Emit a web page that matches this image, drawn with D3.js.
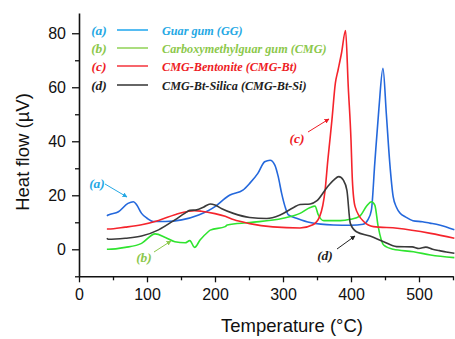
<!DOCTYPE html>
<html>
<head>
<meta charset="utf-8">
<script src="https://cdn.jsdelivr.net/npm/d3@7"></script>
<style>
  body { margin: 0; background: #fff; }
  svg { display: block; font-family: Arial, "Liberation Sans", sans-serif; }
  .legend text, .note { font-family: "Liberation Serif", "Times New Roman", serif; font-weight: bold; font-style: italic; }
</style>
</head>
<body>
<div id="chart"></div>
<script>
var svgWidth = 455;
var svgHeight = 339;

// DSC traces, temperature (°C) and heat flow (µV)
var ggT  = [41, 43, 58, 72, 80, 85, 92, 100, 109, 127, 151, 176, 200, 215, 222, 241, 251, 263, 273, 281, 288, 293, 298, 303, 308, 320, 340, 374, 400, 418, 425, 430, 435, 441, 447, 452, 457, 462, 467, 472, 480, 491, 505, 516, 530, 552];
var ggV  = [12.4, 12.7, 13.9, 17.0, 17.6, 16.4, 13.3, 11.5, 10.3, 10.3, 10.9, 12.7, 15.8, 18.9, 20.1, 21.9, 24.4, 28.1, 32.4, 33.0, 31.2, 26.9, 20.7, 15.8, 12.7, 11.5, 9.9, 9.0, 8.9, 9.3, 11.0, 14.5, 32, 52, 67, 50, 32, 19.5, 15.5, 13.4, 12.0, 10.6, 10.2, 9.7, 9.0, 7.2];

var cmgT = [41, 43, 68, 92, 112, 127, 141, 156, 163, 170, 178, 190, 193, 215, 218, 251, 300, 325, 340, 347, 352, 360, 384, 399, 413, 423, 430, 435, 440, 448, 462, 492, 517, 552];
var cmgV = [0, 0, 0.7, 2.2, 5.7, 4.4, 2.8, 2.4, 3.2, 0.7, 3.4, 6.5, 7.1, 8.4, 9.0, 9.9, 11.5, 13.3, 15.5, 16.0, 12.7, 10.6, 10.6, 11.1, 12.3, 16.0, 17.6, 16.4, 8.4, 1.6, 0, -0.9, -2.1, -3.1];

var btT  = [41, 43, 68, 92, 117, 141, 161, 170, 180, 200, 215, 227, 251, 285, 325, 344, 354, 362, 366, 369, 372, 377, 381, 386, 392, 396, 400, 402, 406, 419, 433, 468, 517, 552];
var btV  = [7.5, 7.5, 8.2, 9.1, 10.7, 12.8, 14.1, 14.3, 14.1, 13.2, 12.2, 11.0, 9.5, 8.3, 7.9, 9.1, 12.2, 22.1, 33.2, 40.5, 48, 61.5, 66.4, 72.6, 81, 60, 40.5, 25.7, 15.8, 10.2, 8.4, 7.8, 5.9, 4.1];

var siT  = [41, 43, 68, 92, 117, 141, 156, 163, 173, 183, 193, 200, 210, 227, 251, 276, 295, 315, 325, 340, 350, 365, 375, 382, 389, 394, 399, 408, 428, 448, 467, 490, 500, 510, 520, 530, 540, 552];
var siV  = [4.1, 3.7, 4.1, 4.9, 7.2, 10.9, 13.4, 14.4, 14.6, 15.6, 16.8, 16.4, 15.0, 13.3, 11.8, 11.4, 12.6, 15.4, 16.6, 16.8, 18.0, 23.0, 25.7, 26.9, 25.5, 21.8, 9.6, 6.5, 4.9, 2.8, 1.0, 0.9, 0.3, 0.8, 0.0, -0.5, -1.0, -1.5];

var seriesNames = ["Guar gum (GG)", "Carboxymethylguar gum (CMG)", "CMG-Bentonite (CMG-Bt)", "CMG-Bt-Silica (CMG-Bt-Si)"];
var seriesTags = ["(a)", "(b)", "(c)", "(d)"];
var xTicks = [0, 100, 200, 300, 400, 500];
var yTicks = [0, 20, 40, 60, 80];

var lineColors = ["#2468dc", "#2fe42f", "#f5242c", "#3a3a3a"];
var legendLineColors = ["#1ea6ee", "#8fd255", "#f5333b", "#333333"];
var textColors = ["#25a8e4", "#8cc84b", "#ee1c25", "#222222"];

var svg = d3.select("#chart")
  .append("svg")
  .attr("width", svgWidth)
  .attr("height", svgHeight);

var x = d3.scaleLinear().domain([0, 550]).range([79, 453]);
var y = d3.scaleLinear().domain([-10, 87.5]).range([276.3, 13]);

// minor ticks first, then the labelled axes on top
svg.append("g")
  .attr("transform", "translate(0,276.3)")
  .call(d3.axisBottom(x).tickValues([50, 150, 250, 350, 450, 550]).tickSize(4).tickFormat(""))
  .call(g => g.select(".domain").remove());
svg.append("g")
  .attr("transform", "translate(79,0)")
  .call(d3.axisLeft(y).tickValues([-10, 10, 30, 50, 70]).tickSize(4).tickFormat(""))
  .call(g => g.select(".domain").remove());

var xAxis = svg.append("g")
  .attr("transform", "translate(0,276.3)")
  .call(d3.axisBottom(x).tickValues(xTicks).tickSize(6).tickSizeOuter(0).tickPadding(6));
var yAxis = svg.append("g")
  .attr("transform", "translate(79,0)")
  .call(d3.axisLeft(y).tickValues(yTicks).tickSize(7).tickSizeOuter(0).tickPadding(6));

svg.selectAll(".tick line").attr("stroke", "#111").attr("stroke-width", 1.3);
[xAxis, yAxis].forEach(function(ax) {
  ax.select(".domain").attr("stroke", "#111").attr("stroke-width", 1.6);
  ax.selectAll("text").attr("font-size", 16).attr("fill", "#111")
    .attr("font-family", "Arial, 'Liberation Sans', sans-serif");
});

// axis titles
svg.append("text")
  .attr("x", 292).attr("y", 332)
  .attr("text-anchor", "middle")
  .attr("font-size", 18.5).attr("fill", "#111")
  .text("Temperature (°C)");
svg.append("text")
  .attr("transform", "translate(29,152) rotate(-90)")
  .attr("text-anchor", "middle")
  .attr("font-size", 18.5).attr("fill", "#111")
  .text("Heat flow (µV)");

// curves
var line = d3.line()
  .x(d => x(d[0]))
  .y(d => y(d[1]))
  .curve(d3.curveMonotoneX);

var traces = [[ggT, ggV], [cmgT, cmgV], [btT, btV], [siT, siV]];
traces.forEach(function(tr, i) {
  svg.append("path")
    .datum(d3.zip(tr[0], tr[1]))
    .attr("fill", "none")
    .attr("stroke", lineColors[i])
    .attr("stroke-width", 1.6)
    .attr("stroke-linejoin", "round")
    .attr("d", line);
});

// legend
var legend = svg.append("g").attr("class", "legend");
var legendY = [30, 48, 66, 85];
seriesNames.forEach(function(name, i) {
  legend.append("text")
    .attr("x", 99).attr("y", legendY[i] + 4.5)
    .attr("text-anchor", "middle")
    .attr("font-size", 13.5)
    .attr("fill", textColors[i])
    .text(seriesTags[i]);
  legend.append("line")
    .attr("x1", 117).attr("x2", 148)
    .attr("y1", legendY[i]).attr("y2", legendY[i])
    .attr("stroke", legendLineColors[i])
    .attr("stroke-width", 1.5);
  legend.append("text")
    .attr("x", 162).attr("y", legendY[i] + 4.5)
    .attr("font-size", 12.2)
    .attr("fill", textColors[i])
    .text(name);
});

// arrow callouts
var defs = svg.append("defs");
textColors.forEach(function(c, i) {
  defs.append("marker")
    .attr("id", "arrow" + i)
    .attr("viewBox", "0 0 10 10")
    .attr("refX", 9).attr("refY", 5)
    .attr("markerWidth", 5).attr("markerHeight", 5)
    .attr("orient", "auto")
    .append("path")
    .attr("d", "M0,0 L10,5 L0,10 z")
    .attr("fill", c);
});

var notes = [
  {tag: "(a)", tx: 97, ty: 188, x1: 105, y1: 184, x2: 127, y2: 197},
  {tag: "(b)", tx: 144, ty: 262, x1: 154, y1: 252, x2: 171, y2: 241},
  {tag: "(c)", tx: 297, ty: 143, x1: 308, y1: 132, x2: 329, y2: 119},
  {tag: "(d)", tx: 325, ty: 260, x1: 337, y1: 249, x2: 355, y2: 236}
];
notes.forEach(function(n, i) {
  svg.append("text")
    .attr("class", "note")
    .attr("x", n.tx).attr("y", n.ty)
    .attr("text-anchor", "middle")
    .attr("font-size", 13.5)
    .attr("fill", textColors[i])
    .text(n.tag);
  svg.append("line")
    .attr("x1", n.x1).attr("y1", n.y1)
    .attr("x2", n.x2).attr("y2", n.y2)
    .attr("stroke", textColors[i])
    .attr("stroke-width", 1)
    .attr("marker-end", "url(#arrow" + i + ")");
});
</script>
</body>
</html>
